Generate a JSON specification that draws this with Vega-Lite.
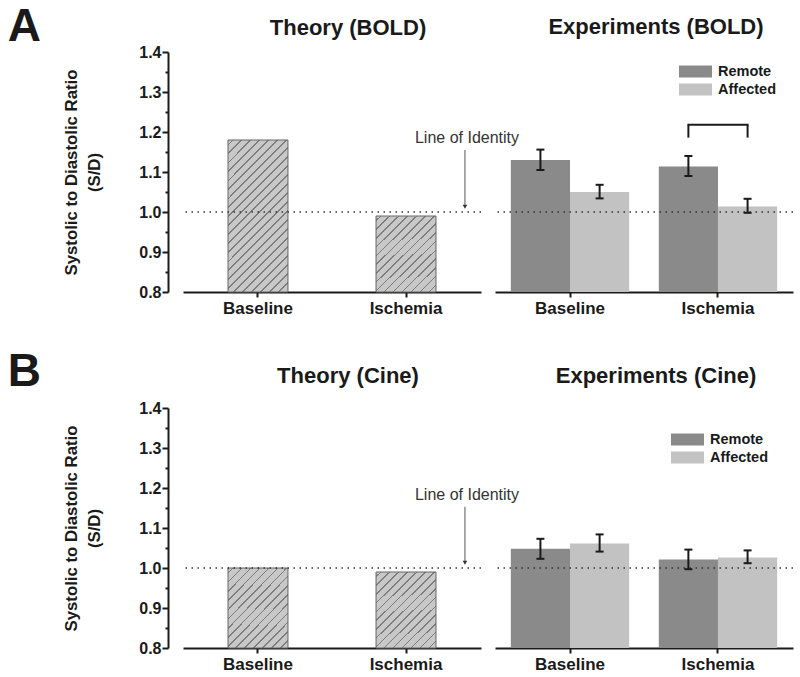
{
  "$schema": "https://vega.github.io/schema/vega-lite/v6.json",
  "padding": {"left": 7, "top": 4, "right": 5, "bottom": 5},
  "datasets": {
    "theory": [
      {"row": "A", "cond": "Baseline", "ratio": 1.18},
      {"row": "A", "cond": "Ischemia", "ratio": 0.99},
      {"row": "B", "cond": "Baseline", "ratio": 1.0},
      {"row": "B", "cond": "Ischemia", "ratio": 0.99}
    ],
    "experiments": [
      {"row": "A", "cond": "Baseline", "region": "Remote", "ratio": 1.13, "lo": 1.105, "hi": 1.156},
      {"row": "A", "cond": "Baseline", "region": "Affected", "ratio": 1.05, "lo": 1.034, "hi": 1.068},
      {"row": "A", "cond": "Ischemia", "region": "Remote", "ratio": 1.114, "lo": 1.09, "hi": 1.14},
      {"row": "A", "cond": "Ischemia", "region": "Affected", "ratio": 1.014, "lo": 0.998, "hi": 1.033},
      {"row": "B", "cond": "Baseline", "region": "Remote", "ratio": 1.048, "lo": 1.023, "hi": 1.073},
      {"row": "B", "cond": "Baseline", "region": "Affected", "ratio": 1.061, "lo": 1.041, "hi": 1.084},
      {"row": "B", "cond": "Ischemia", "region": "Remote", "ratio": 1.021, "lo": 0.997, "hi": 1.046},
      {"row": "B", "cond": "Ischemia", "region": "Affected", "ratio": 1.026, "lo": 1.012, "hi": 1.044}
    ],
    "identity": [{"note": "Line of Identity", "level": 1.0}]
  },
  "config": {
    "font": "Liberation Sans",
    "view": {"stroke": null},
    "axis": {"grid": false, "domainColor": "#1a1a1a", "domainWidth": 2, "tickColor": "#1a1a1a", "tickWidth": 2, "labelColor": "#1a1a1a", "labelFontWeight": "bold", "titleColor": "#1a1a1a", "labelOverlap": false},
    "title": {"fontSize": 22, "fontWeight": "bold", "color": "#1a1a1a"},
    "legend": {"orient": "none", "title": null, "symbolType": "M-2,-0.72H2V0.72H-2Z", "symbolSize": 272, "symbolStrokeWidth": 0, "symbolOpacity": 1, "labelFontSize": 14.5, "labelFontWeight": "bold", "labelColor": "#1a1a1a", "labelOffset": 14, "rowPadding": 3, "padding": 0}
  },
  "spacing": 33,
  "resolve": {"scale": {"color": "independent"}, "legend": {"color": "independent"}},
  "vconcat": [
    {
      "title": {"text": "A", "orient": "left", "anchor": "end", "angle": 0, "align": "right", "baseline": "top", "fontSize": 46, "fontWeight": "bold", "offset": -11, "dy": -11, "color": "#1a1a1a"},
      "bounds": "flush",
      "spacing": 14,
      "resolve": {"scale": {"color": "independent"}, "legend": {"color": "independent"}},
      "hconcat": [
        {
          "width": 298, "height": 240,
          "title": {"text": "Theory (BOLD)", "anchor": "middle", "baseline": "alphabetic", "dx": 16, "offset": -13},
          "layer": [
            {
              "data": {"name": "theory"},
              "transform": [{"filter": "datum.row === 'A' && datum.cond === 'Baseline'"}],
              "mark": {"type": "bar", "stroke": "#666666", "strokeWidth": 1, "fill": {"gradient": "linear", "x1": 0, "y1": 0, "x2": 0.4763, "y2": 1.2066, "stops": [
                {"offset": 0, "color": "#c8c8c8"},
                {"offset": 0.0189, "color": "#c8c8c8"}, {"offset": 0.0189, "color": "#7d7d7d"}, {"offset": 0.0264, "color": "#7d7d7d"}, {"offset": 0.0264, "color": "#c8c8c8"},
                {"offset": 0.0613, "color": "#c8c8c8"}, {"offset": 0.0613, "color": "#7d7d7d"}, {"offset": 0.0689, "color": "#7d7d7d"}, {"offset": 0.0689, "color": "#c8c8c8"},
                {"offset": 0.1038, "color": "#c8c8c8"}, {"offset": 0.1038, "color": "#7d7d7d"}, {"offset": 0.1113, "color": "#7d7d7d"}, {"offset": 0.1113, "color": "#c8c8c8"},
                {"offset": 0.1462, "color": "#c8c8c8"}, {"offset": 0.1462, "color": "#7d7d7d"}, {"offset": 0.1538, "color": "#7d7d7d"}, {"offset": 0.1538, "color": "#c8c8c8"},
                {"offset": 0.1887, "color": "#c8c8c8"}, {"offset": 0.1887, "color": "#7d7d7d"}, {"offset": 0.1962, "color": "#7d7d7d"}, {"offset": 0.1962, "color": "#c8c8c8"},
                {"offset": 0.2311, "color": "#c8c8c8"}, {"offset": 0.2311, "color": "#7d7d7d"}, {"offset": 0.2387, "color": "#7d7d7d"}, {"offset": 0.2387, "color": "#c8c8c8"},
                {"offset": 0.2736, "color": "#c8c8c8"}, {"offset": 0.2736, "color": "#7d7d7d"}, {"offset": 0.2811, "color": "#7d7d7d"}, {"offset": 0.2811, "color": "#c8c8c8"},
                {"offset": 0.3160, "color": "#c8c8c8"}, {"offset": 0.3160, "color": "#7d7d7d"}, {"offset": 0.3236, "color": "#7d7d7d"}, {"offset": 0.3236, "color": "#c8c8c8"},
                {"offset": 0.3585, "color": "#c8c8c8"}, {"offset": 0.3585, "color": "#7d7d7d"}, {"offset": 0.3660, "color": "#7d7d7d"}, {"offset": 0.3660, "color": "#c8c8c8"},
                {"offset": 0.4009, "color": "#c8c8c8"}, {"offset": 0.4009, "color": "#7d7d7d"}, {"offset": 0.4085, "color": "#7d7d7d"}, {"offset": 0.4085, "color": "#c8c8c8"},
                {"offset": 0.4434, "color": "#c8c8c8"}, {"offset": 0.4434, "color": "#7d7d7d"}, {"offset": 0.4509, "color": "#7d7d7d"}, {"offset": 0.4509, "color": "#c8c8c8"},
                {"offset": 0.4858, "color": "#c8c8c8"}, {"offset": 0.4858, "color": "#7d7d7d"}, {"offset": 0.4934, "color": "#7d7d7d"}, {"offset": 0.4934, "color": "#c8c8c8"},
                {"offset": 0.5283, "color": "#c8c8c8"}, {"offset": 0.5283, "color": "#7d7d7d"}, {"offset": 0.5358, "color": "#7d7d7d"}, {"offset": 0.5358, "color": "#c8c8c8"},
                {"offset": 0.5708, "color": "#c8c8c8"}, {"offset": 0.5708, "color": "#7d7d7d"}, {"offset": 0.5783, "color": "#7d7d7d"}, {"offset": 0.5783, "color": "#c8c8c8"},
                {"offset": 0.6132, "color": "#c8c8c8"}, {"offset": 0.6132, "color": "#7d7d7d"}, {"offset": 0.6208, "color": "#7d7d7d"}, {"offset": 0.6208, "color": "#c8c8c8"},
                {"offset": 0.6557, "color": "#c8c8c8"}, {"offset": 0.6557, "color": "#7d7d7d"}, {"offset": 0.6632, "color": "#7d7d7d"}, {"offset": 0.6632, "color": "#c8c8c8"},
                {"offset": 0.6981, "color": "#c8c8c8"}, {"offset": 0.6981, "color": "#7d7d7d"}, {"offset": 0.7057, "color": "#7d7d7d"}, {"offset": 0.7057, "color": "#c8c8c8"},
                {"offset": 0.7406, "color": "#c8c8c8"}, {"offset": 0.7406, "color": "#7d7d7d"}, {"offset": 0.7481, "color": "#7d7d7d"}, {"offset": 0.7481, "color": "#c8c8c8"},
                {"offset": 0.7830, "color": "#c8c8c8"}, {"offset": 0.7830, "color": "#7d7d7d"}, {"offset": 0.7906, "color": "#7d7d7d"}, {"offset": 0.7906, "color": "#c8c8c8"},
                {"offset": 0.8255, "color": "#c8c8c8"}, {"offset": 0.8255, "color": "#7d7d7d"}, {"offset": 0.8330, "color": "#7d7d7d"}, {"offset": 0.8330, "color": "#c8c8c8"},
                {"offset": 0.8679, "color": "#c8c8c8"}, {"offset": 0.8679, "color": "#7d7d7d"}, {"offset": 0.8755, "color": "#7d7d7d"}, {"offset": 0.8755, "color": "#c8c8c8"},
                {"offset": 0.9104, "color": "#c8c8c8"}, {"offset": 0.9104, "color": "#7d7d7d"}, {"offset": 0.9179, "color": "#7d7d7d"}, {"offset": 0.9179, "color": "#c8c8c8"},
                {"offset": 0.9528, "color": "#c8c8c8"}, {"offset": 0.9528, "color": "#7d7d7d"}, {"offset": 0.9604, "color": "#7d7d7d"}, {"offset": 0.9604, "color": "#c8c8c8"},
                {"offset": 1, "color": "#c8c8c8"}
              ]}},
              "encoding": {
                "x": {"field": "cond", "type": "nominal", "scale": {"domain": ["Baseline", "Ischemia"], "paddingInner": 0.595, "paddingOuter": 0.304}, "axis": {"title": null, "labelAngle": 0, "labelFontSize": 17, "tickSize": 5, "labelPadding": 3}},
                "y": {"field": "ratio", "type": "quantitative", "scale": {"domain": [0.8, 1.4], "nice": false, "zero": false}, "axis": {"title": ["Systolic to Diastolic Ratio", "(S/D)"], "titleFontSize": 16.8, "titleFontWeight": "bold", "titleLineHeight": 23.5, "titlePadding": 35, "offset": 15, "tickCount": 30, "values": [0.8, 0.85, 0.9, 0.95, 1.0, 1.05, 1.1, 1.15, 1.2, 1.25, 1.3, 1.35, 1.4], "labelOverlap": false, "labelExpr": "round(datum.value*20) % 2 === 1 ? '' : format(datum.value, '.1f')", "tickSize": {"condition": {"test": "round(datum.value*20) % 2 === 1", "value": 3}, "value": 6}, "labelFontSize": 16, "labelPadding": 1}},
                "y2": {"datum": 0.8}
              }
            },
            {
              "data": {"name": "theory"},
              "transform": [{"filter": "datum.row === 'A' && datum.cond === 'Ischemia'"}],
              "mark": {"type": "bar", "stroke": "#666666", "strokeWidth": 1, "fill": {"gradient": "linear", "x1": 0, "y1": 0, "x2": 0.855, "y2": 1.1115, "stops": [
                {"offset": 0, "color": "#c8c8c8"},
                {"offset": 0.0290, "color": "#c8c8c8"}, {"offset": 0.0290, "color": "#7d7d7d"}, {"offset": 0.0406, "color": "#7d7d7d"}, {"offset": 0.0406, "color": "#c8c8c8"},
                {"offset": 0.0942, "color": "#c8c8c8"}, {"offset": 0.0942, "color": "#7d7d7d"}, {"offset": 0.1058, "color": "#7d7d7d"}, {"offset": 0.1058, "color": "#c8c8c8"},
                {"offset": 0.1594, "color": "#c8c8c8"}, {"offset": 0.1594, "color": "#7d7d7d"}, {"offset": 0.1710, "color": "#7d7d7d"}, {"offset": 0.1710, "color": "#c8c8c8"},
                {"offset": 0.2246, "color": "#c8c8c8"}, {"offset": 0.2246, "color": "#7d7d7d"}, {"offset": 0.2362, "color": "#7d7d7d"}, {"offset": 0.2362, "color": "#c8c8c8"},
                {"offset": 0.2899, "color": "#c8c8c8"}, {"offset": 0.2899, "color": "#7d7d7d"}, {"offset": 0.3014, "color": "#7d7d7d"}, {"offset": 0.3014, "color": "#c8c8c8"},
                {"offset": 0.3551, "color": "#c8c8c8"}, {"offset": 0.3551, "color": "#7d7d7d"}, {"offset": 0.3667, "color": "#7d7d7d"}, {"offset": 0.3667, "color": "#c8c8c8"},
                {"offset": 0.4203, "color": "#c8c8c8"}, {"offset": 0.4203, "color": "#7d7d7d"}, {"offset": 0.4319, "color": "#7d7d7d"}, {"offset": 0.4319, "color": "#c8c8c8"},
                {"offset": 0.4855, "color": "#c8c8c8"}, {"offset": 0.4855, "color": "#7d7d7d"}, {"offset": 0.4971, "color": "#7d7d7d"}, {"offset": 0.4971, "color": "#c8c8c8"},
                {"offset": 0.5507, "color": "#c8c8c8"}, {"offset": 0.5507, "color": "#7d7d7d"}, {"offset": 0.5623, "color": "#7d7d7d"}, {"offset": 0.5623, "color": "#c8c8c8"},
                {"offset": 0.6159, "color": "#c8c8c8"}, {"offset": 0.6159, "color": "#7d7d7d"}, {"offset": 0.6275, "color": "#7d7d7d"}, {"offset": 0.6275, "color": "#c8c8c8"},
                {"offset": 0.6812, "color": "#c8c8c8"}, {"offset": 0.6812, "color": "#7d7d7d"}, {"offset": 0.6928, "color": "#7d7d7d"}, {"offset": 0.6928, "color": "#c8c8c8"},
                {"offset": 0.7464, "color": "#c8c8c8"}, {"offset": 0.7464, "color": "#7d7d7d"}, {"offset": 0.7580, "color": "#7d7d7d"}, {"offset": 0.7580, "color": "#c8c8c8"},
                {"offset": 0.8116, "color": "#c8c8c8"}, {"offset": 0.8116, "color": "#7d7d7d"}, {"offset": 0.8232, "color": "#7d7d7d"}, {"offset": 0.8232, "color": "#c8c8c8"},
                {"offset": 0.8768, "color": "#c8c8c8"}, {"offset": 0.8768, "color": "#7d7d7d"}, {"offset": 0.8884, "color": "#7d7d7d"}, {"offset": 0.8884, "color": "#c8c8c8"},
                {"offset": 0.9420, "color": "#c8c8c8"}, {"offset": 0.9420, "color": "#7d7d7d"}, {"offset": 0.9536, "color": "#7d7d7d"}, {"offset": 0.9536, "color": "#c8c8c8"},
                {"offset": 1, "color": "#c8c8c8"}
              ]}},
              "encoding": {
                "x": {"field": "cond", "type": "nominal"},
                "y": {"field": "ratio", "type": "quantitative"},
                "y2": {"datum": 0.8}
              }
            },
            {
              "data": {"name": "identity"},
              "mark": {"type": "rule", "color": "#333333", "strokeWidth": 1.5, "strokeDash": [1.5, 4.5]},
              "encoding": {"y": {"field": "level", "type": "quantitative"}}
            },
            {
              "data": {"name": "identity"},
              "mark": {"type": "text", "fontSize": 16, "color": "#333333", "align": "center", "baseline": "middle"},
              "encoding": {
                "x": {"datum": "Ischemia", "type": "nominal", "bandPosition": 1.517},
                "y": {"datum": 1.185, "type": "quantitative"},
                "text": {"field": "note"}
              }
            },
            {
              "data": {"name": "identity"},
              "mark": {"type": "rule", "color": "#555555", "strokeWidth": 1},
              "encoding": {
                "x": {"datum": "Ischemia", "type": "nominal", "bandPosition": 1.483},
                "y": {"datum": 1.155, "type": "quantitative"},
                "y2": {"datum": 1.015}
              }
            },
            {
              "data": {"name": "identity"},
              "mark": {"type": "point", "shape": "triangle-down", "filled": true, "size": 22, "color": "#333333", "opacity": 1},
              "encoding": {
                "x": {"datum": "Ischemia", "type": "nominal", "bandPosition": 1.483},
                "y": {"datum": 1.013, "type": "quantitative"}
              }
            }
          ]
        },
        {
          "width": 298, "height": 240,
          "title": {"text": "Experiments (BOLD)", "anchor": "middle", "baseline": "alphabetic", "dx": 12, "offset": -4},
          "data": {"name": "experiments"},
          "transform": [{"filter": "datum.row === 'A'"}],
          "layer": [
            {
              "mark": {"type": "bar"},
              "encoding": {
                "x": {"field": "cond", "type": "nominal", "scale": {"domain": ["Baseline", "Ischemia"], "paddingInner": 0.2, "paddingOuter": 0.107}, "axis": {"title": null, "labelAngle": 0, "labelFontSize": 17, "tickSize": 5, "labelPadding": 3}},
                "xOffset": {"field": "region", "type": "nominal", "scale": {"domain": ["Remote", "Affected"], "paddingInner": 0, "paddingOuter": 0}},
                "y": {"field": "ratio", "type": "quantitative", "scale": {"domain": [0.8, 1.4], "nice": false, "zero": false}, "axis": null},
                "y2": {"datum": 0.8},
                "color": {"field": "region", "type": "nominal", "scale": {"domain": ["Remote", "Affected"], "range": ["#8a8a8a", "#c2c2c2"]}, "legend": {"legendX": 192, "legendY": 11}}
              }
            },
            {
              "data": {"name": "identity"},
              "mark": {"type": "rule", "color": "#333333", "strokeWidth": 1.5, "strokeDash": [1.5, 4.5]},
              "encoding": {"y": {"field": "level", "type": "quantitative"}}
            },
            {
              "mark": {"type": "rule", "color": "#1a1a1a", "strokeWidth": 2},
              "encoding": {
                "x": {"field": "cond", "type": "nominal"},
                "xOffset": {"field": "region", "type": "nominal"},
                "y": {"field": "lo", "type": "quantitative"},
                "y2": {"field": "hi"}
              }
            },
            {
              "mark": {"type": "tick", "color": "#1a1a1a", "thickness": 2, "size": 8, "opacity": 1},
              "encoding": {
                "x": {"field": "cond", "type": "nominal"},
                "xOffset": {"field": "region", "type": "nominal"},
                "y": {"field": "lo", "type": "quantitative"}
              }
            },
            {
              "mark": {"type": "tick", "color": "#1a1a1a", "thickness": 2, "size": 8, "opacity": 1},
              "encoding": {
                "x": {"field": "cond", "type": "nominal"},
                "xOffset": {"field": "region", "type": "nominal"},
                "y": {"field": "hi", "type": "quantitative"}
              }
            },
            {
              "transform": [{"filter": "datum.cond === 'Ischemia'"}],
              "mark": {"type": "rule", "color": "#1a1a1a", "strokeWidth": 2},
              "encoding": {
                "x": {"field": "cond", "type": "nominal"},
                "xOffset": {"field": "region", "type": "nominal"},
                "y": {"datum": 1.186, "type": "quantitative"},
                "y2": {"datum": 1.218}
              }
            },
            {
              "transform": [{"filter": "datum.cond === 'Ischemia' && datum.region === 'Remote'"}],
              "mark": {"type": "tick", "color": "#1a1a1a", "thickness": 2, "size": 61, "opacity": 1},
              "encoding": {
                "x": {"field": "cond", "type": "nominal"},
                "y": {"datum": 1.218, "type": "quantitative"}
              }
            }
          ]
        }
      ]
    },
    {
      "title": {"text": "B", "orient": "left", "anchor": "end", "angle": 0, "align": "right", "baseline": "top", "fontSize": 46, "fontWeight": "bold", "offset": -11, "dy": -15, "color": "#1a1a1a"},
      "bounds": "flush",
      "spacing": 14,
      "resolve": {"scale": {"color": "independent"}, "legend": {"color": "independent"}},
      "hconcat": [
        {
          "width": 298, "height": 240,
          "title": {"text": "Theory (Cine)", "anchor": "middle", "baseline": "alphabetic", "dx": 16, "offset": -5},
          "layer": [
            {
              "data": {"name": "theory"},
              "transform": [{"filter": "datum.row === 'B'"}],
              "mark": {"type": "bar", "stroke": "#666666", "strokeWidth": 1, "fill": {"gradient": "linear", "x1": 0, "y1": 0, "x2": 0.855, "y2": 1.1115, "stops": [
                {"offset": 0, "color": "#c8c8c8"},
                {"offset": 0.0290, "color": "#c8c8c8"}, {"offset": 0.0290, "color": "#7d7d7d"}, {"offset": 0.0406, "color": "#7d7d7d"}, {"offset": 0.0406, "color": "#c8c8c8"},
                {"offset": 0.0942, "color": "#c8c8c8"}, {"offset": 0.0942, "color": "#7d7d7d"}, {"offset": 0.1058, "color": "#7d7d7d"}, {"offset": 0.1058, "color": "#c8c8c8"},
                {"offset": 0.1594, "color": "#c8c8c8"}, {"offset": 0.1594, "color": "#7d7d7d"}, {"offset": 0.1710, "color": "#7d7d7d"}, {"offset": 0.1710, "color": "#c8c8c8"},
                {"offset": 0.2246, "color": "#c8c8c8"}, {"offset": 0.2246, "color": "#7d7d7d"}, {"offset": 0.2362, "color": "#7d7d7d"}, {"offset": 0.2362, "color": "#c8c8c8"},
                {"offset": 0.2899, "color": "#c8c8c8"}, {"offset": 0.2899, "color": "#7d7d7d"}, {"offset": 0.3014, "color": "#7d7d7d"}, {"offset": 0.3014, "color": "#c8c8c8"},
                {"offset": 0.3551, "color": "#c8c8c8"}, {"offset": 0.3551, "color": "#7d7d7d"}, {"offset": 0.3667, "color": "#7d7d7d"}, {"offset": 0.3667, "color": "#c8c8c8"},
                {"offset": 0.4203, "color": "#c8c8c8"}, {"offset": 0.4203, "color": "#7d7d7d"}, {"offset": 0.4319, "color": "#7d7d7d"}, {"offset": 0.4319, "color": "#c8c8c8"},
                {"offset": 0.4855, "color": "#c8c8c8"}, {"offset": 0.4855, "color": "#7d7d7d"}, {"offset": 0.4971, "color": "#7d7d7d"}, {"offset": 0.4971, "color": "#c8c8c8"},
                {"offset": 0.5507, "color": "#c8c8c8"}, {"offset": 0.5507, "color": "#7d7d7d"}, {"offset": 0.5623, "color": "#7d7d7d"}, {"offset": 0.5623, "color": "#c8c8c8"},
                {"offset": 0.6159, "color": "#c8c8c8"}, {"offset": 0.6159, "color": "#7d7d7d"}, {"offset": 0.6275, "color": "#7d7d7d"}, {"offset": 0.6275, "color": "#c8c8c8"},
                {"offset": 0.6812, "color": "#c8c8c8"}, {"offset": 0.6812, "color": "#7d7d7d"}, {"offset": 0.6928, "color": "#7d7d7d"}, {"offset": 0.6928, "color": "#c8c8c8"},
                {"offset": 0.7464, "color": "#c8c8c8"}, {"offset": 0.7464, "color": "#7d7d7d"}, {"offset": 0.7580, "color": "#7d7d7d"}, {"offset": 0.7580, "color": "#c8c8c8"},
                {"offset": 0.8116, "color": "#c8c8c8"}, {"offset": 0.8116, "color": "#7d7d7d"}, {"offset": 0.8232, "color": "#7d7d7d"}, {"offset": 0.8232, "color": "#c8c8c8"},
                {"offset": 0.8768, "color": "#c8c8c8"}, {"offset": 0.8768, "color": "#7d7d7d"}, {"offset": 0.8884, "color": "#7d7d7d"}, {"offset": 0.8884, "color": "#c8c8c8"},
                {"offset": 0.9420, "color": "#c8c8c8"}, {"offset": 0.9420, "color": "#7d7d7d"}, {"offset": 0.9536, "color": "#7d7d7d"}, {"offset": 0.9536, "color": "#c8c8c8"},
                {"offset": 1, "color": "#c8c8c8"}
              ]}},
              "encoding": {
                "x": {"field": "cond", "type": "nominal", "scale": {"domain": ["Baseline", "Ischemia"], "paddingInner": 0.595, "paddingOuter": 0.304}, "axis": {"title": null, "labelAngle": 0, "labelFontSize": 17, "tickSize": 5, "labelPadding": 3}},
                "y": {"field": "ratio", "type": "quantitative", "scale": {"domain": [0.8, 1.4], "nice": false, "zero": false}, "axis": {"title": ["Systolic to Diastolic Ratio", "(S/D)"], "titleFontSize": 16.8, "titleFontWeight": "bold", "titleLineHeight": 23.5, "titlePadding": 35, "offset": 15, "tickCount": 30, "values": [0.8, 0.85, 0.9, 0.95, 1.0, 1.05, 1.1, 1.15, 1.2, 1.25, 1.3, 1.35, 1.4], "labelOverlap": false, "labelExpr": "round(datum.value*20) % 2 === 1 ? '' : format(datum.value, '.1f')", "tickSize": {"condition": {"test": "round(datum.value*20) % 2 === 1", "value": 3}, "value": 6}, "labelFontSize": 16, "labelPadding": 1}},
                "y2": {"datum": 0.8}
              }
            },
            {
              "data": {"name": "identity"},
              "mark": {"type": "rule", "color": "#333333", "strokeWidth": 1.5, "strokeDash": [1.5, 4.5]},
              "encoding": {"y": {"field": "level", "type": "quantitative"}}
            },
            {
              "data": {"name": "identity"},
              "mark": {"type": "text", "fontSize": 16, "color": "#333333", "align": "center", "baseline": "middle"},
              "encoding": {
                "x": {"datum": "Ischemia", "type": "nominal", "bandPosition": 1.517},
                "y": {"datum": 1.183, "type": "quantitative"},
                "text": {"field": "note"}
              }
            },
            {
              "data": {"name": "identity"},
              "mark": {"type": "rule", "color": "#555555", "strokeWidth": 1},
              "encoding": {
                "x": {"datum": "Ischemia", "type": "nominal", "bandPosition": 1.483},
                "y": {"datum": 1.153, "type": "quantitative"},
                "y2": {"datum": 1.015}
              }
            },
            {
              "data": {"name": "identity"},
              "mark": {"type": "point", "shape": "triangle-down", "filled": true, "size": 22, "color": "#333333", "opacity": 1},
              "encoding": {
                "x": {"datum": "Ischemia", "type": "nominal", "bandPosition": 1.483},
                "y": {"datum": 1.013, "type": "quantitative"}
              }
            }
          ]
        },
        {
          "width": 298, "height": 240,
          "title": {"text": "Experiments (Cine)", "anchor": "middle", "baseline": "alphabetic", "dx": 12, "offset": 3},
          "data": {"name": "experiments"},
          "transform": [{"filter": "datum.row === 'B'"}],
          "layer": [
            {
              "mark": {"type": "bar"},
              "encoding": {
                "x": {"field": "cond", "type": "nominal", "scale": {"domain": ["Baseline", "Ischemia"], "paddingInner": 0.2, "paddingOuter": 0.107}, "axis": {"title": null, "labelAngle": 0, "labelFontSize": 17, "tickSize": 5, "labelPadding": 3}},
                "xOffset": {"field": "region", "type": "nominal", "scale": {"domain": ["Remote", "Affected"], "paddingInner": 0, "paddingOuter": 0}},
                "y": {"field": "ratio", "type": "quantitative", "scale": {"domain": [0.8, 1.4], "nice": false, "zero": false}, "axis": null},
                "y2": {"datum": 0.8},
                "color": {"field": "region", "type": "nominal", "scale": {"domain": ["Remote", "Affected"], "range": ["#8a8a8a", "#c2c2c2"]}, "legend": {"legendX": 184, "legendY": 23}}
              }
            },
            {
              "data": {"name": "identity"},
              "mark": {"type": "rule", "color": "#333333", "strokeWidth": 1.5, "strokeDash": [1.5, 4.5]},
              "encoding": {"y": {"field": "level", "type": "quantitative"}}
            },
            {
              "mark": {"type": "rule", "color": "#1a1a1a", "strokeWidth": 2},
              "encoding": {
                "x": {"field": "cond", "type": "nominal"},
                "xOffset": {"field": "region", "type": "nominal"},
                "y": {"field": "lo", "type": "quantitative"},
                "y2": {"field": "hi"}
              }
            },
            {
              "mark": {"type": "tick", "color": "#1a1a1a", "thickness": 2, "size": 8, "opacity": 1},
              "encoding": {
                "x": {"field": "cond", "type": "nominal"},
                "xOffset": {"field": "region", "type": "nominal"},
                "y": {"field": "lo", "type": "quantitative"}
              }
            },
            {
              "mark": {"type": "tick", "color": "#1a1a1a", "thickness": 2, "size": 8, "opacity": 1},
              "encoding": {
                "x": {"field": "cond", "type": "nominal"},
                "xOffset": {"field": "region", "type": "nominal"},
                "y": {"field": "hi", "type": "quantitative"}
              }
            }
          ]
        }
      ]
    }
  ]
}
